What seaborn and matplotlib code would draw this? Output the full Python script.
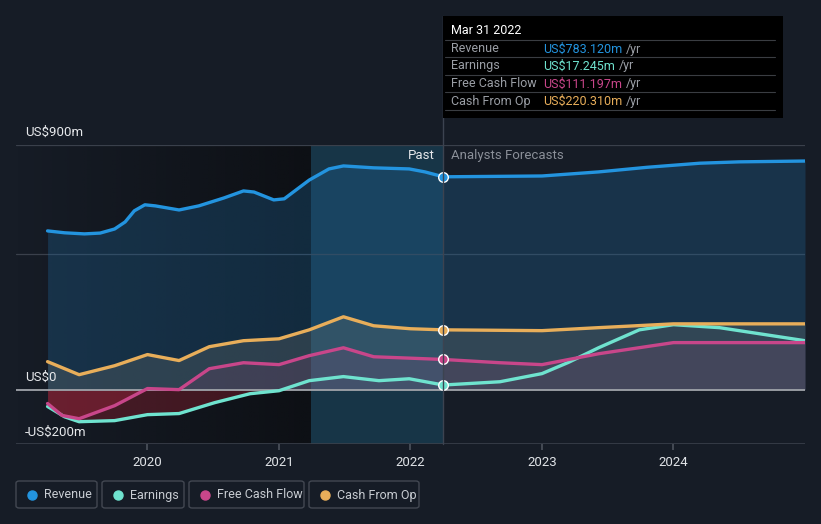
import numpy as np
import pandas as pd
import seaborn as sns
import matplotlib.pyplot as plt
from matplotlib.patches import FancyBboxPatch, Rectangle

# %% data (values in US$m)
rev_t = [2019.24, 2019.37, 2019.52, 2019.64, 2019.75, 2019.83, 2019.9, 2019.98, 2020.06, 2020.24,
         2020.39, 2020.58, 2020.73, 2020.81, 2020.96, 2021.04, 2021.15, 2021.23, 2021.38,
         2021.49, 2021.72, 2021.99, 2022.11, 2022.25]
rev_v = [584, 577, 573, 576, 591, 617, 658, 680, 676, 661, 676, 705, 731, 727, 698, 702, 742,
         771, 812, 823, 816, 812, 801, 783]
rev_ft = [2022.25, 2023.0, 2023.43, 2023.8, 2024.2, 2024.5, 2025.0]
rev_fv = [783, 786, 801, 818, 833, 838, 841]

earn_t = [2019.24, 2019.37, 2019.48, 2019.75, 2020.0, 2020.24, 2020.51, 2020.78, 2021.0,
          2021.23, 2021.49, 2021.76, 2021.99, 2022.25]
earn_v = [-62, -100, -118, -114, -92, -88, -48, -15, -4, 33, 48, 33, 40, 17]
earn_ft = [2022.25, 2022.68, 2023.0, 2023.2, 2023.43, 2023.74, 2024.0, 2024.35, 2025.0]
earn_fv = [17, 29, 59, 100, 154, 220, 239, 228, 180]

fcf_t = [2019.24, 2019.35, 2019.48, 2019.75, 2020.0, 2020.24, 2020.47, 2020.73, 2021.0,
         2021.23, 2021.49, 2021.72, 2022.25]
fcf_v = [-51, -95, -107, -59, 4, 0, 77, 99, 92, 125, 154, 121, 111]
fcf_ft = [2022.25, 2022.68, 2023.0, 2023.43, 2024.0, 2025.0]
fcf_fv = [111, 99, 92, 132, 173, 173]

cfo_t = [2019.24, 2019.48, 2019.75, 2020.0, 2020.24, 2020.47, 2020.73, 2021.0, 2021.23,
         2021.49, 2021.72, 2022.0, 2022.25]
cfo_v = [103, 55, 88, 129, 107, 158, 180, 187, 220, 268, 235, 224, 220]
cfo_ft = [2022.25, 2023.0, 2023.43, 2024.0, 2025.0]
cfo_fv = [220, 217, 228, 242, 242]

years = [2020, 2021, 2022, 2023, 2024]
now = 2022.25
band_start = 2021.24

names = ['Revenue', 'Earnings', 'Free Cash Flow', 'Cash From Op']
colors = ['#2394df', '#6fe3cf', '#c8468a', '#e8ae5a']
tip_vals = ['US$783.120m', 'US$17.245m', 'US$111.197m', 'US$220.310m']

bg = '#161c26'

# %% figure
sns.set_theme(style='dark')
plt.rcParams['font.family'] = ['Roboto', 'DejaVu Sans']
fig = plt.figure(figsize=(8.21, 5.24), dpi=100, facecolor=bg)
ax = fig.add_axes([16 / 821, 80 / 524, 789 / 821, 299 / 524])
ax.set_facecolor(bg)
ax.set_xlim(2019.0, 2025.0)
ax.set_ylim(-200, 900)

# background shading: dark gradient up to the highlighted band
grad = np.linspace(0, 1, 256).reshape(1, -1)
rgba = np.zeros((1, 256, 4))
rgba[..., :3] = np.array([12, 14, 18]) / 255
rgba[..., 3] = grad * 0.85
ax.imshow(rgba, extent=[2019.0, band_start, -200, 900], aspect='auto', zorder=0,
          interpolation='bilinear')
ax.axvspan(band_start, now, color='#1b6a8c', alpha=0.33, lw=0, zorder=0)

# grid lines
for g in [900, 500]:
    ax.axhline(g, color='#3a404b', lw=0.9, zorder=1)
ax.axhline(0, color='#a0a4aa', lw=1.3, zorder=3)
ax.axhline(-200, color='#3a404b', lw=1.2, zorder=1)

series = [
    (rev_t, rev_v, rev_ft, rev_fv),
    (earn_t, earn_v, earn_ft, earn_fv),
    (fcf_t, fcf_v, fcf_ft, fcf_fv),
    (cfo_t, cfo_v, cfo_ft, cfo_fv),
]

# area fills
ax.fill_between(rev_t + rev_ft, rev_v + rev_fv, 0, color='#1f6aa0', alpha=0.3, lw=0, zorder=1)
ax.fill_between(cfo_t + cfo_ft, cfo_v + cfo_fv, 0, color='#8a8a80', alpha=0.22, lw=0, zorder=2)
ax.fill_between(fcf_t + fcf_ft, fcf_v + fcf_fv, 0, color='#c8468a', alpha=0.12, lw=0, zorder=2)
ax.fill_between(earn_t, earn_v, 0, where=np.array(earn_v) < 0, interpolate=True,
                color='#a02030', alpha=0.35, lw=0, zorder=2)
ax.fill_between(fcf_t, fcf_v, 0, where=np.array(fcf_v) < 0, interpolate=True,
                color='#b02030', alpha=0.25, lw=0, zorder=2)

for (t, v, ft, fv), c, n in zip(series, colors, names):
    df = pd.DataFrame({'t': t + ft, 'v': v + fv})
    sns.lineplot(data=df, x='t', y='v', color=c, lw=2.4, ax=ax, zorder=5, sort=False)
    ax.scatter([now], [v[-1]], s=48, color=c, edgecolor='white', lw=1.0, zorder=7)

ax.set_xlabel('')
ax.set_ylabel('')
ax.set_yticks([])
ax.set_xticks(years)
ax.set_xticklabels([str(y) for y in years], color='#e0e3e7', fontsize=9.5)
ax.tick_params(axis='x', length=4, color='#4a505a', pad=5, bottom=True)
for s in ax.spines.values():
    s.set_visible(False)

# y labels
fig.text(25 / 821, 1 - 132 / 524, 'US$900m', color='#e6e8eb', fontsize=9.5, va='center')
fig.text(25 / 821, 1 - 377 / 524, 'US$0', color='#e6e8eb', fontsize=9.5, va='center')
fig.text(25 / 821, 1 - 432 / 524, '-US$200m', color='#e6e8eb', fontsize=9.5, va='center')

# past / forecast labels
fig.text(435 / 821, 1 - 156 / 524, 'Past', color='#e6e8eb', fontsize=9.5, ha='right', va='center')
fig.text(451 / 821, 1 - 156 / 524, 'Analysts Forecasts', color='#8a8f98', fontsize=9.5,
         ha='left', va='center')

# vertical now line extending to tooltip
fig.add_artist(plt.Line2D([443 / 821, 443 / 821], [1 - 444 / 524, 1 - 16 / 524],
                          color='#3c4350', lw=1, zorder=1))

# tooltip
fig.add_artist(Rectangle((443 / 821, 1 - 118 / 524), 340 / 821, 102 / 524,
                         facecolor='black', edgecolor='none', zorder=4))
fig.text(451 / 821, 1 - 31 / 524, 'Mar 31 2022', color='white', fontsize=9, va='center', zorder=5)
row_y = [49, 66, 84, 101]
for i, (n, c, tv) in enumerate(zip(names, colors, tip_vals)):
    y = row_y[i]
    fig.add_artist(plt.Line2D([443 / 821 + 0.003, 775 / 821], [1 - (y - 9) / 524] * 2,
                              color='#3a3d42', lw=0.8, zorder=5))
    fig.text(451 / 821, 1 - y / 524, n, color='#9a9ea5', fontsize=9, va='center', zorder=5)
    t = fig.text(543 / 821, 1 - y / 524, tv, color=c, fontsize=9, va='center', zorder=5)
    fig.canvas.draw()
    bb = t.get_window_extent()
    fig.text((bb.x1 + 4) / 821, 1 - y / 524, '/yr', color='#9a9ea5', fontsize=9,
             va='center', zorder=5)
fig.add_artist(plt.Line2D([443 / 821 + 0.003, 775 / 821], [1 - 110 / 524] * 2,
                          color='#3a3d42', lw=0.8, zorder=5))

# legend pills
boxes = [(16, 97), (102, 184), (189, 304), (309, 419)]
for (x0, x1), n, c in zip(boxes, names, colors):
    fig.add_artist(FancyBboxPatch((x0 / 821, 1 - 508 / 524), (x1 - x0) / 821, 27 / 524,
                                  boxstyle='round,pad=0,rounding_size=0.004',
                                  facecolor=bg, edgecolor='#434852', lw=1))
    fig.add_artist(plt.Line2D([(x0 + 16) / 821], [1 - 495 / 524], marker='o', ms=6.5,
                              color=c, lw=0))
    fig.text((x0 + 28) / 821, 1 - 495 / 524, n, color='#c8ccd2', fontsize=9, va='center')

fig.savefig('out.png', dpi=100, facecolor=bg)
